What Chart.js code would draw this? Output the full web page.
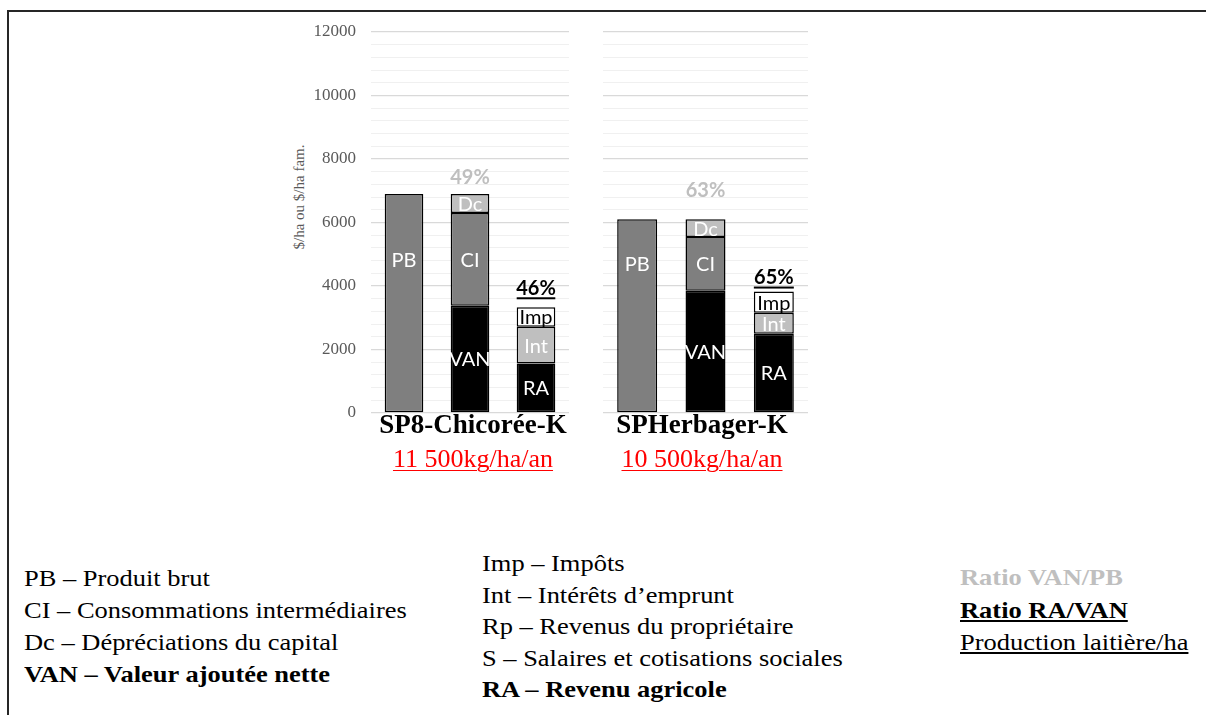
<!DOCTYPE html>
<html>
<head>
<meta charset="utf-8">
<script src="https://cdn.jsdelivr.net/npm/chart.js@4.4.1/dist/chart.umd.min.js"></script>
<style>
  body { margin: 0; width: 1206px; height: 715px; background: #fff; position: relative; overflow: hidden; }
  .abs { position: absolute; white-space: nowrap; }
  #frame { left: 7px; top: 10px; width: 1300px; height: 800px; border-top: 2px solid #262626; border-left: 2px solid #262626; }
  .box { position: absolute; top: 0; height: 432px; }
  #box1 { left: 280px; width: 289px; }
  #box2 { left: 603px; width: 205px; }
  .serif { font-family: "Liberation Serif", "Times New Roman", serif; }
  .yTitle { left: 299px; top: 197px; font-size: 15px; color: #595959; transform: translate(-50%, -50%) rotate(-90deg); }
  .sys { font-size: 27px; font-weight: bold; line-height: 27px; transform: translateX(-50%); color: #000; }
  .milk { font-size: 26px; line-height: 26px; color: #ff0000; text-decoration: underline; text-decoration-thickness: 1px; text-underline-offset: 3px; transform: translateX(-50%); }
  .legend { font-size: 23px; color: #000; }
  .wide { transform: scaleX(1.15); transform-origin: 0 0; }
</style>
</head>
<body>
<div id="frame" class="abs"></div>
<div class="abs serif yTitle" id="yTitle"></div>
<div class="box" id="box1"><canvas id="c1"></canvas></div>
<div class="box" id="box2"><canvas id="c2"></canvas></div>
<div class="abs serif sys" id="sys0" style="left:473px; top:411px;"></div>
<div class="abs serif milk" id="milk0" style="left:473px; top:446px;"></div>
<div class="abs serif sys" id="sys1" style="left:702px; top:411px;"></div>
<div class="abs serif milk" id="milk1" style="left:702px; top:446px;"></div>

<div class="abs serif legend wide" style="left:24px; top:563px; line-height:32px;">
  PB – Produit brut<br>
  CI – Consommations intermédiaires<br>
  Dc – Dépréciations du capital<br>
  <b>VAN – Valeur ajoutée nette</b>
</div>
<div class="abs serif legend wide" style="left:482px; top:548px; line-height:31.6px;">
  Imp – Impôts<br>
  Int – Intérêts d’emprunt<br>
  Rp – Revenus du propriétaire<br>
  S – Salaires et cotisations sociales<br>
  <b>RA – Revenu agricole</b>
</div>
<div class="abs serif legend wide" style="left:960px; top:562px; line-height:32.5px;">
  <b style="color:#bfbfbf">Ratio VAN/PB</b><br>
  <b style="text-decoration:underline">Ratio RA/VAN</b><br>
  <span style="text-decoration:underline">Production laitière/ha</span>
</div>

<script>
// one panel per system, three bars per panel
const systems = ['SP8-Chicorée-K', 'SPHerbager-K'];
const milkPerHa = ['11 500kg/ha/an', '10 500kg/ha/an'];
const barNames = ['PB', 'VAN', 'RA'];
const yTitle = '$/ha ou $/ha fam.';

// $/ha
const pb = [6900, 6100];
const van = [3380, 3850];
const ci = [2920, 1690];
const dc = [600, 560];
const ra = [1560, 2500];
const intr = [1160, 655];
const imp = [610, 670];

// ratios printed above the bars
const vanPb = ['49%', '63%'];
const raVan = ['46%', '65%'];

// tick values
const yMax = 12000;
const minorStep = 400;
const majorStep = 2000;

document.getElementById('yTitle').textContent = yTitle;
systems.forEach((s, i) => {
  document.getElementById('sys' + i).textContent = s;
  document.getElementById('milk' + i).textContent = milkPerHa[i];
});

const GRAY = '#7f7f7f';
const LIGHT = '#bfbfbf';

const segLabels = {
  id: 'segLabels',
  afterDatasetsDraw(chart, args, opts) {
    const ctx = chart.ctx;
    const i = opts.panel;
    const metas = chart.data.datasets.map((d, k) => chart.getDatasetMeta(k));
    const byName = {};
    chart.data.datasets.forEach((d, k) => { byName[d.label] = metas[k]; });
    ctx.save();
    ctx.textAlign = 'center';
    ctx.textBaseline = 'middle';
    ctx.font = '20px Lato';
    chart.data.datasets.forEach((d, k) => {
      d.data.forEach((v, j) => {
        if (v == null) return;
        const el = metas[k].data[j];
        let y = (el.y + el.base) / 2;
        if (d.label === 'PB') {
          const c = byName['CI'].data[1];
          y = (c.y + c.base) / 2;
        }
        ctx.fillStyle = d.textColor;
        ctx.fillText(d.label, el.x, y + 1);
      });
    });
    // VAN/PB above the middle bar
    const top1 = byName['Dc'].data[1];
    ctx.font = 'bold 20px Lato';
    ctx.fillStyle = LIGHT;
    ctx.fillText(vanPb[i], top1.x, top1.y - opts.vanPbOffset);
    // RA/VAN above the last bar, underlined
    const top2 = byName['Imp'].data[2];
    const ty = top2.y - opts.raVanOffset;
    ctx.fillStyle = '#000';
    ctx.fillText(raVan[i], top2.x, ty);
    ctx.fillRect(top2.x - top2.width / 2, ty + 9, top2.width, 2);
    ctx.restore();
  }
};

function makePanel(canvasId, i, withAxis, offsets) {
  const seg = (label, pos, value, bg, textColor) => {
    const data = [null, null, null];
    data[pos] = value;
    return { label, data, backgroundColor: bg, textColor, borderColor: '#000', borderWidth: 1.5, borderSkipped: false };
  };
  const datasets = [
    seg('PB', 0, pb[i], GRAY, '#fff'),
    seg('VAN', 1, van[i], '#000', '#fff'),
    seg('CI', 1, ci[i], GRAY, '#fff'),
    seg('Dc', 1, dc[i], LIGHT, '#fff'),
    seg('RA', 2, ra[i], '#000', '#fff'),
    seg('Int', 2, intr[i], LIGHT, '#fff'),
    seg('Imp', 2, imp[i], '#fff', '#000')
  ];
  return new Chart(document.getElementById(canvasId), {
    type: 'bar',
    data: { labels: barNames, datasets },
    options: {
      animation: false,
      responsive: true,
      maintainAspectRatio: false,
      layout: { padding: { top: 32, left: 0, right: 0, bottom: 19 } },
      datasets: { bar: { categoryPercentage: 0.585, barPercentage: 1 } },
      plugins: {
        legend: { display: false },
        tooltip: { enabled: false },
        segLabels: { panel: i, vanPbOffset: offsets[0], raVanOffset: offsets[1] }
      },
      scales: {
        x: { stacked: true, display: false },
        y: {
          stacked: true,
          min: 0,
          max: yMax,
          border: { display: false },
          grid: {
            drawTicks: false,
            color: (c) => (c.tick && c.tick.value % majorStep === 0) ? '#d9d9d9' : '#f0f0f0',
            lineWidth: (c) => (c.tick && c.tick.value % majorStep === 0) ? 1.3 : 1
          },
          ticks: {
            display: withAxis,
            stepSize: minorStep,
            autoSkip: false,
            padding: 15,
            color: '#595959',
            font: { family: 'Liberation Serif', size: 17 },
            callback: (v) => (v % majorStep === 0 ? String(v) : '')
          },
          afterFit: (s) => {
            s.width = withAxis ? 91 : 0;
            s.paddingTop = 0;
            s.paddingBottom = 0;
          }
        }
      }
    },
    plugins: [segLabels]
  });
}

makePanel('c1', 0, true, [16, 19]);
makePanel('c2', 1, false, [29, 14]);
</script>
</body>
</html>
